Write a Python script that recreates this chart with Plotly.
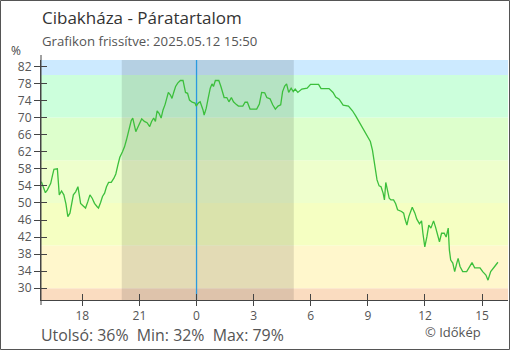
import plotly.graph_objects as go

# Hours relative to midnight of 2025-05-12 (negative = previous day)
hours = [-8.15, -7.94, -7.84, -7.66, -7.56, -7.49, -7.31, -7.28, -7.23, -7.21, -7.09, -6.97, -6.86, -6.76,
         -6.65, -6.58, -6.47, -6.35, -6.23, -6.16, -6.09, -5.95, -5.83, -5.71, -5.60, -5.48, -5.36, -5.22,
         -5.15, -5.04, -4.94, -4.83, -4.73, -4.62, -4.48, -4.34, -4.24, -4.13, -4.03, -3.89, -3.78, -3.68,
         -3.57, -3.50, -3.43, -3.35, -3.26, -3.19, -3.09, -2.98, -2.88, -2.74, -2.60, -2.46, -2.36, -2.25,
         -2.16, -2.07, -1.97, -1.86, -1.76, -1.65, -1.55, -1.48, -1.37, -1.29, -1.20, -1.10, -0.99, -0.85,
         -0.71, -0.64, -0.58, -0.47, -0.37, -0.23, -0.08, -0.02, 0.09, 0.19, 0.26, 0.34, 0.40, 0.51, 0.61,
         0.72, 0.81, 0.89, 0.99, 1.17, 1.28, 1.38, 1.45, 1.59, 1.70, 1.83, 1.94, 2.08, 2.20, 2.43, 2.55,
         2.67, 2.81, 3.16, 3.30, 3.42, 3.58, 3.69, 3.86, 4.00, 4.14, 4.28, 4.42, 4.52, 4.63, 4.73, 4.84,
         4.97, 5.08, 5.18, 5.32, 5.53, 5.81, 5.99, 6.41, 6.54, 6.96, 7.17, 7.31, 7.49, 7.70, 7.98, 8.19,
         8.36, 8.53, 8.68, 8.85, 9.03, 9.13, 9.24, 9.34, 9.41, 9.48, 9.59, 9.69, 9.80, 9.87, 9.94, 10.01,
         10.12, 10.21, 10.35, 10.46, 10.56, 10.77, 10.88, 10.94, 11.05, 11.15, 11.33, 11.47, 11.57, 11.71,
         11.82, 11.89, 11.99, 12.10, 12.20, 12.31, 12.45, 12.55, 12.66, 12.76, 12.87, 13.01, 13.11, 13.22,
         13.28, 13.35, 13.46, 13.56, 13.67, 13.74, 13.84, 13.98, 14.19, 14.33, 14.47, 14.61, 14.89, 15.03,
         15.20, 15.31, 15.45, 15.66, 15.83]
humidity = [55.0, 52.4, 53.0, 54.6, 56.6, 57.9, 58.0, 56.3, 53.4, 51.9, 52.8, 51.9, 49.8, 46.8,
            47.6, 49.1, 51.9, 52.6, 53.8, 51.9, 49.9, 49.3, 48.8, 50.3, 51.9, 51.1, 49.9, 49.1,
            48.8, 50.1, 51.5, 52.3, 53.8, 54.8, 54.8, 55.8, 56.8, 58.9, 60.7, 62.0, 63.2, 64.8,
            66.7, 68.3, 69.3, 69.9, 67.5, 66.7, 67.7, 68.7, 69.7, 69.1, 68.8, 67.9, 69.1, 69.9,
            69.1, 71.6, 71.0, 69.9, 71.8, 73.1, 74.5, 75.9, 75.3, 74.5, 75.9, 77.3, 78.1, 78.7,
            78.7, 77.3, 75.9, 75.7, 74.1, 73.6, 73.4, 72.7, 73.4, 73.7, 73.0, 71.8, 70.6, 72.2, 74.5,
            76.9, 77.9, 77.3, 78.7, 78.7, 77.3, 75.9, 74.7, 74.7, 73.7, 74.7, 73.7, 73.1, 72.7, 72.7, 73.6,
            73.6, 72.0, 72.0, 73.2, 75.9, 75.8, 74.7, 74.4, 73.0, 72.0, 72.7, 73.0, 76.1, 77.4, 77.9, 75.9,
            76.9, 76.1, 76.7, 75.9, 76.7, 76.9, 77.8, 77.8, 76.8, 76.8, 75.9, 74.8, 74.3, 72.9, 72.7, 71.6,
            70.4, 69.1, 67.9, 66.5, 65.2, 64.4, 62.4, 59.7, 57.1, 55.4, 54.0, 53.8, 52.3, 50.7, 54.8, 53.2,
            51.1, 50.7, 50.7, 49.8, 48.4, 48.0, 47.6, 46.4, 44.8, 46.8, 49.0, 47.6, 46.2, 45.1,
            45.8, 42.9, 39.7, 42.1, 44.8, 44.1, 45.8, 44.4, 42.5, 40.9, 42.9, 42.9, 42.0, 44.1,
            39.0, 36.6, 35.9, 33.9, 35.9, 37.0, 35.1, 33.9, 33.9, 35.1, 36.0, 34.8, 34.8, 33.9,
            33.1, 31.9, 33.9, 35.1, 36.1]

x_tick_vals = [-6, -3, 0, 3, 6, 9, 12, 15]
x_tick_text = ["18", "21", "0", "3", "6", "9", "12", "15"]
y_tick_vals = [30, 34, 38, 42, 46, 50, 54, 58, 62, 66, 70, 74, 78, 82]

band_edges = [0, 30, 40, 50, 60, 70, 80, 100]
band_colors = ["#fadcc0", "#fff7cc", "#f5ffc2", "#eeffcc", "#ddffcc", "#ccffdc", "#cceaff"]
sunset_h = -3.93   # 20:04
sunrise_h = 5.11   # 05:07

x_range = [-8.17, 16.36]
y_range = [27.25, 83.5]

title = "Cibakháza - Páratartalom"
subtitle = "Grafikon frissítve: 2025.05.12 15:50"
stats = "Utolsó: 36%  Min: 32%  Max: 79%"
credit = "© Időkép"

W, H = 510, 350
ML, MR, MT, MB = 41, 2, 60, 50
PW, PH = W - ML - MR, H - MT - MB

def px(xp):
    return (xp - ML) / PW

def py(yp):
    return (H - MB - yp) / PH

fig = go.Figure()
fig.add_trace(go.Scatter(x=hours, y=humidity, mode="lines",
                         line=dict(color="#3cbf3c", width=1.3), hoverinfo="skip", showlegend=False))
# helper invisible trace for the inside-tick overlay axes
fig.add_trace(go.Scatter(x=[x_range[0]], y=[y_range[0]], xaxis="x2", yaxis="y2", mode="markers",
                         marker=dict(opacity=0), hoverinfo="skip", showlegend=False))

shapes = []
for i, c in enumerate(band_colors):
    shapes.append(dict(type="rect", xref="paper", yref="y", x0=0, x1=1,
                       y0=max(band_edges[i], y_range[0]), y1=min(band_edges[i + 1], y_range[1]),
                       fillcolor=c, line=dict(width=0), layer="below"))
shapes.append(dict(type="rect", xref="x", yref="paper", x0=sunset_h, x1=sunrise_h, y0=0, y1=1,
                   fillcolor="rgba(0,0,0,0.11)", line=dict(width=0), layer="below"))
shapes.append(dict(type="line", xref="x", yref="paper", x0=0, x1=0, y0=0, y1=1,
                   line=dict(color="#2a9ae0", width=1.3), layer="below"))
# outer frame
shapes.append(dict(type="rect", xref="paper", yref="paper", x0=px(0.5), x1=px(W - 0.5),
                   y0=py(H - 0.5), y1=py(0.5), line=dict(color="#555555", width=1),
                   fillcolor="rgba(0,0,0,0)"))
# axis line overhangs (y axis extends slightly beyond the plot area)
shapes.append(dict(type="line", xref="paper", yref="paper", x0=0, x1=0, y0=py(305), y1=py(55),
                   line=dict(color="#444444", width=1)))

font_family = "Open Sans"
annotations = [
    dict(text=title, x=px(40), y=py(18), xref="paper", yref="paper", xanchor="left", yanchor="middle",
         showarrow=False, font=dict(family=font_family, size=17, color="#333333")),
    dict(text=subtitle, x=px(40), y=py(41), xref="paper", yref="paper", xanchor="left", yanchor="middle",
         showarrow=False, font=dict(family=font_family, size=13.2, color="#555555")),
    dict(text="%", x=px(16), y=py(51), xref="paper", yref="paper", xanchor="center", yanchor="middle",
         showarrow=False, font=dict(family=font_family, size=12, color="#444444")),
    dict(text=stats, x=px(39), y=py(334.5), xref="paper", yref="paper", xanchor="left", yanchor="middle",
         showarrow=False, font=dict(family=font_family, size=15.9, color="#555555")),
    dict(text=credit, x=px(483), y=py(331.5), xref="paper", yref="paper", xanchor="right", yanchor="middle",
         showarrow=False, font=dict(family=font_family, size=13, color="#555555")),
]

axis_common = dict(showgrid=False, zeroline=False, showline=True, linecolor="#444444", linewidth=1,
                   tickcolor="#444444", tickwidth=1,
                   tickfont=dict(family=font_family, size=12, color="#555555"))

fig.update_layout(
    width=W, height=H, margin=dict(l=ML, r=MR, t=MT, b=MB, pad=0),
    paper_bgcolor="white", plot_bgcolor="white",
    shapes=shapes, annotations=annotations, showlegend=False,
    xaxis=dict(range=x_range, tickmode="array", tickvals=x_tick_vals, ticktext=x_tick_text,
               ticks="outside", ticklen=5, fixedrange=True, **axis_common),
    yaxis=dict(range=y_range, tickmode="array", tickvals=y_tick_vals,
               ticks="outside", ticklen=6, fixedrange=True, **axis_common),
    xaxis2=dict(range=x_range, overlaying="x", side="bottom", tickmode="array", tickvals=x_tick_vals,
                ticks="inside", ticklen=6, showticklabels=False, showgrid=False, zeroline=False,
                showline=False, tickcolor="#444444", tickwidth=1, fixedrange=True),
    yaxis2=dict(range=y_range, overlaying="y", side="left", tickmode="array", tickvals=y_tick_vals,
                ticks="inside", ticklen=6, showticklabels=False, showgrid=False, zeroline=False,
                showline=False, tickcolor="#444444", tickwidth=1, fixedrange=True),
)

fig.write_html("out.html", config={"displayModeBar": False})
